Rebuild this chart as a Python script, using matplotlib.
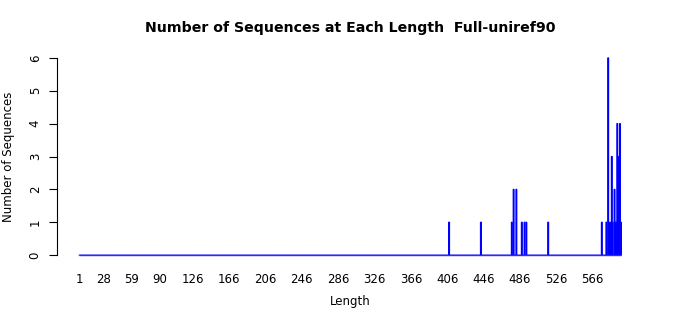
"""
Number of sequences at each length (R barplot style)
"""
import matplotlib
matplotlib.use('Agg')
import matplotlib.pyplot as plt

# Data: every length from 1 to max_length, only a few have sequences
max_length = 597
hit_lengths = [408, 443, 477, 479, 482, 488, 491, 493, 517, 576,
               581, 583, 585, 587, 588, 590, 591, 592, 593, 594, 595, 596, 597]
hit_counts = [1, 1, 1, 2, 2, 1, 1, 1, 1, 1,
              1, 6, 1, 3, 1, 2, 1, 1, 4, 1, 3, 4, 1]
tick_lengths = [1, 28, 59, 90, 126, 166, 206, 246, 286, 326, 366, 406, 446, 486, 526, 566]
y_ticks = [0, 1, 2, 3, 4, 5, 6]

lengths = list(range(1, max_length + 1))
counts = [0] * max_length
for L, c in zip(hit_lengths, hit_counts):
    counts[L - 1] = c

fig = plt.figure(figsize=(7, 3.15), dpi=100)
ax = fig.add_axes([57 / 700, 1 - 263 / 315, 586 / 700, 213 / 315])

bar_w = 1 / 1.2
ax.bar(lengths, counts, width=bar_w, color='blue', edgecolor='blue',
       linewidth=0.9, snap=False)
# baseline left by the zero-height bars
ax.hlines(0, lengths[0] - bar_w / 2, lengths[-1] + bar_w / 2, color='#2a2aff', linewidth=1.0)

ax.set_xlim(1 - 24.3, max_length + 24.3)
ax.set_ylim(-0.24, 6.24)

for side in ['top', 'right', 'bottom']:
    ax.spines[side].set_visible(False)
ax.spines['left'].set_bounds(0, 6)
ax.spines['left'].set_linewidth(0.8)

ax.set_xticks(tick_lengths)
ax.set_xticklabels([str(t) for t in tick_lengths], fontsize=8.5)
ax.tick_params(axis='x', length=0, pad=7)
ax.set_yticks(y_ticks)
ax.set_yticklabels([str(t) for t in y_ticks], fontsize=8.5, rotation=90, va='center')
ax.tick_params(axis='y', length=6, width=0.8, pad=5)

ax.set_title('Number of Sequences at Each Length  Full-uniref90',
             fontsize=10.2, fontweight='bold', pad=13)
ax.set_xlabel('Length', fontsize=8.5, labelpad=7)
ax.set_ylabel('Number of Sequences', fontsize=8.5, labelpad=10)

fig.savefig('out.png', dpi=100)
